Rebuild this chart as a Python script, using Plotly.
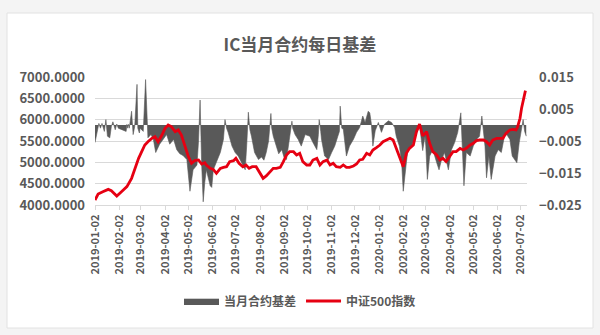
import plotly.graph_objects as go

# ---------------- data ----------------
index_dates = [
    "2019-01-02","2019-01-06","2019-01-12","2019-01-19","2019-01-23","2019-01-30",
    "2019-02-05","2019-02-12","2019-02-18","2019-02-22","2019-02-27",
    "2019-03-03","2019-03-07","2019-03-11","2019-03-16","2019-03-20","2019-03-24","2019-03-29",
    "2019-04-02","2019-04-06","2019-04-10","2019-04-15","2019-04-19","2019-04-23","2019-04-28",
    "2019-05-02","2019-05-06","2019-05-10","2019-05-15","2019-05-19","2019-05-23","2019-05-25","2019-05-30",
    "2019-06-03","2019-06-07","2019-06-12","2019-06-16","2019-06-20","2019-06-24","2019-06-29",
    "2019-07-02","2019-07-06","2019-07-11","2019-07-15","2019-07-19","2019-07-23","2019-07-28",
    "2019-08-01","2019-08-06","2019-08-10","2019-08-15","2019-08-19","2019-08-23","2019-08-28",
    "2019-09-01","2019-09-05","2019-09-09","2019-09-14","2019-09-18","2019-09-22","2019-09-26",
    "2019-10-01","2019-10-05","2019-10-09","2019-10-14","2019-10-18","2019-10-22","2019-10-27","2019-10-31",
    "2019-11-04","2019-11-08","2019-11-13","2019-11-17","2019-11-21","2019-11-25","2019-11-30",
    "2019-12-04","2019-12-08","2019-12-12","2019-12-17","2019-12-21","2019-12-25","2019-12-30",
    "2020-01-03","2020-01-07","2020-01-12","2020-01-16","2020-01-20","2020-01-24","2020-01-29",
    "2020-02-02","2020-02-06","2020-02-10","2020-02-15","2020-02-19","2020-02-23","2020-02-27",
    "2020-03-03","2020-03-07","2020-03-11","2020-03-16","2020-03-20","2020-03-24","2020-03-28",
    "2020-04-02","2020-04-06","2020-04-10","2020-04-15","2020-04-19","2020-04-23","2020-04-28",
    "2020-05-02","2020-05-06","2020-05-10","2020-05-15","2020-05-19","2020-05-23","2020-05-27",
    "2020-06-01","2020-06-05","2020-06-09","2020-06-13","2020-06-18","2020-06-22","2020-06-26","2020-06-28",
    "2020-07-01","2020-07-03","2020-07-05","2020-07-08",
]
index_values = [
    4117,4258,4312,4367,4336,4211,
    4312,4430,4625,4859,5094,
    5250,5406,5484,5562,5601,5484,5640,
    5797,5875,5836,5718,5758,5640,5367,
    5133,4977,5039,5055,4961,4992,4938,4859,
    4836,4742,4859,4883,4898,5016,5039,
    5094,4977,4898,4938,4859,4898,4898,
    4781,4625,4680,4781,4859,4859,4883,
    5016,5172,5250,5250,5172,5211,5016,
    4938,4938,5055,5094,4938,5016,5055,4938,
    4977,4898,4883,4938,4883,4883,4914,
    4961,5055,5070,5211,5172,5289,5352,
    5406,5484,5523,5562,5523,5328,5094,
    4898,5211,5328,5406,5718,5898,5620,
    5718,5445,5250,5172,5055,5094,5016,
    5133,5250,5250,5328,5289,5328,5406,
    5445,5508,5523,5523,5484,5406,5523,
    5562,5562,5562,5680,5758,5773,5758,5836,
    6031,6266,6461,6680,
]

basis_dates = [
    "2019-01-02","2019-01-04","2019-01-07","2019-01-09","2019-01-11","2019-01-14","2019-01-16",
    "2019-01-18","2019-01-21","2019-01-23","2019-01-25","2019-01-28","2019-01-30","2019-02-01",
    "2019-02-11","2019-02-12","2019-02-13","2019-02-14","2019-02-15","2019-02-18","2019-02-19",
    "2019-02-20","2019-02-22","2019-02-25","2019-02-26","2019-02-28","2019-03-01","2019-03-05",
    "2019-03-08","2019-03-11","2019-03-15","2019-03-18","2019-03-21","2019-03-26","2019-04-04",
    "2019-04-08","2019-04-13","2019-04-17","2019-04-21","2019-04-25","2019-04-30","2019-05-04",
    "2019-05-08","2019-05-13","2019-05-15","2019-05-17","2019-05-19","2019-05-21","2019-05-23",
    "2019-05-25","2019-05-30","2019-06-01","2019-06-03","2019-06-07","2019-06-12","2019-06-16",
    "2019-06-18","2019-06-20","2019-06-22","2019-06-27","2019-07-01","2019-07-05","2019-07-09",
    "2019-07-14","2019-07-16","2019-07-18","2019-07-20","2019-07-22","2019-07-26","2019-07-31",
    "2019-08-04","2019-08-07","2019-08-10","2019-08-13","2019-08-16","2019-08-17","2019-08-19",
    "2019-08-23","2019-08-26","2019-08-30","2019-09-02","2019-09-05","2019-09-08","2019-09-12",
    "2019-09-13","2019-09-16","2019-09-20","2019-09-24","2019-09-29","2019-10-03","2019-10-05",
    "2019-10-09","2019-10-14","2019-10-16","2019-10-17","2019-10-19","2019-10-20","2019-10-24",
    "2019-10-29","2019-11-02","2019-11-06","2019-11-10","2019-11-12","2019-11-13","2019-11-15",
    "2019-11-17","2019-11-19","2019-11-21","2019-11-25","2019-11-30","2019-12-04","2019-12-08",
    "2019-12-10","2019-12-12","2019-12-15","2019-12-17","2019-12-19","2019-12-21","2019-12-23",
    "2019-12-25","2019-12-28","2020-01-01","2020-01-05","2020-01-09","2020-01-14","2020-01-18",
    "2020-01-22","2020-01-24","2020-01-28","2020-01-31","2020-02-02","2020-02-06","2020-02-08",
    "2020-02-13","2020-02-17","2020-02-20","2020-02-23","2020-02-27","2020-03-01","2020-03-02",
    "2020-03-04","2020-03-07","2020-03-11","2020-03-16","2020-03-19","2020-03-22","2020-03-26",
    "2020-03-31","2020-04-04","2020-04-08","2020-04-12","2020-04-16","2020-04-18","2020-04-20",
    "2020-04-23","2020-04-28","2020-05-02","2020-05-06","2020-05-10","2020-05-13","2020-05-17",
    "2020-05-19","2020-05-22","2020-05-25","2020-05-30","2020-06-03","2020-06-07","2020-06-11",
    "2020-06-14","2020-06-18","2020-06-21","2020-06-24","2020-06-27","2020-06-30","2020-07-03",
    "2020-07-05","2020-07-07","2020-07-09",
]
basis_values = [
    -0.0055,-0.0030,0.0005,-0.0010,0.0005,-0.0020,0.0017,
    -0.0035,-0.0040,-0.0005,0.0010,-0.0015,0.0003,-0.0010,
    -0.0020,0.0002,-0.0010,0.0002,-0.0010,0.0043,0.0010,
    -0.0030,-0.0005,0.0127,-0.0010,-0.0025,-0.0010,-0.0020,
    0.0142,-0.0040,-0.0030,-0.0045,-0.0086,-0.0060,-0.0030,
    -0.0060,-0.0045,-0.0077,-0.0090,-0.0095,-0.0108,-0.0207,
    -0.0140,-0.0125,-0.0050,0.0078,-0.0120,-0.0240,-0.0180,
    -0.0140,-0.0190,-0.0195,-0.0140,-0.0118,-0.0086,-0.0045,
    0.0017,-0.0010,-0.0023,-0.0066,-0.0086,-0.0097,-0.0118,
    -0.0140,-0.0060,0.0040,-0.0015,-0.0035,-0.0086,-0.0108,
    -0.0100,-0.0110,-0.0086,-0.0050,0.0036,-0.0010,-0.0035,
    -0.0066,-0.0090,-0.0077,-0.0102,-0.0108,-0.0055,0.0012,
    -0.0010,-0.0030,-0.0045,-0.0066,-0.0030,-0.0035,-0.0035,
    -0.0055,-0.0077,-0.0030,0.0017,-0.0020,-0.0045,-0.0097,
    -0.0108,-0.0086,-0.0066,-0.0035,-0.0020,0.0059,-0.0010,
    -0.0013,-0.0050,-0.0097,-0.0066,-0.0045,-0.0023,-0.0008,
    0.0010,0.0028,0.0008,0.0030,0.0043,0.0038,0.0005,
    -0.0066,-0.0018,0.0008,-0.0023,0.0003,0.0013,0.0008,
    -0.0008,-0.0035,-0.0066,-0.0118,-0.0207,-0.0118,-0.0077,
    -0.0066,-0.0035,-0.0020,-0.0002,-0.0080,-0.0035,-0.0066,
    -0.0170,-0.0097,-0.0077,-0.0118,-0.0140,-0.0110,-0.0086,
    -0.0140,-0.0077,-0.0055,-0.0023,0.0038,-0.0066,-0.0190,
    -0.0086,-0.0097,-0.0066,-0.0045,-0.0035,0.0028,-0.0066,
    -0.0165,-0.0097,-0.0170,-0.0097,-0.0077,-0.0086,-0.0035,
    -0.0030,-0.0045,-0.0097,-0.0108,-0.0118,-0.0055,-0.0013,
    0.0017,-0.0020,-0.0035,
]

x_tick_dates = [
    "2019-01-02","2019-02-02","2019-03-02","2019-04-02","2019-05-02","2019-06-02",
    "2019-07-02","2019-08-02","2019-09-02","2019-10-02","2019-11-02","2019-12-02",
    "2020-01-02","2020-02-02","2020-03-02","2020-04-02","2020-05-02","2020-06-02","2020-07-02",
]
left_ticks = [4000, 4500, 5000, 5500, 6000, 6500, 7000]
right_ticks = [-0.025, -0.015, -0.005, 0.005, 0.015]

# ---------------- figure ----------------
FONT = "Noto Sans CJK SC, Noto Sans, sans-serif"
GREY_TXT = "#595959"

fig = go.Figure()

# basis area (primary y, drawn on the right)
fig.add_trace(go.Scatter(
    x=basis_dates, y=basis_values, name="当月合约基差",
    mode="lines", line=dict(color="#595959", width=0.6),
    fill="tozeroy", fillcolor="#595959", yaxis="y",
))
# index line (secondary y, drawn on the left, on top)
fig.add_trace(go.Scatter(
    x=index_dates, y=index_values, name="中证500指数",
    mode="lines", line=dict(color="#e60012", width=2.8), yaxis="y2",
))

L, R, T, B = 95, 73, 77, 130
PW, PH = 600 - L - R, 335 - T - B

fig.update_layout(
    width=600, height=335,
    margin=dict(l=L, r=R, t=T, b=B, pad=0),
    paper_bgcolor="#f4f4f4", plot_bgcolor="rgba(0,0,0,0)",
    font=dict(family=FONT, color=GREY_TXT, size=11),
    title=dict(text="<b>IC当月合约每日基差</b>", x=0.5, xanchor="center",
               y=1 - 45 / 335, yanchor="middle",
               font=dict(size=17, color=GREY_TXT, family=FONT)),
    showlegend=True,
    legend=dict(orientation="h", x=(300 - L) / PW, xanchor="center",
                y=(335 - B - 301) / PH, yanchor="middle",
                font=dict(size=12, color=GREY_TXT, family=FONT, weight="bold"),
                bgcolor="rgba(0,0,0,0)", itemwidth=35, traceorder="normal"),
    xaxis=dict(type="date", range=["2019-01-02", "2020-07-10"],
               tickvals=x_tick_dates, tickformat="%Y-%m-%d", tickangle=-90,
               tickfont=dict(size=11, color=GREY_TXT, family=FONT, weight="bold"),
               showgrid=False, showline=True, linecolor="#d9d9d9", linewidth=1,
               ticks="outside", ticklen=4, tickcolor="#d9d9d9", zeroline=False),
    yaxis=dict(side="right", range=[-0.025, 0.015], tickvals=right_ticks,
               tickformat=".3f", showgrid=False, zeroline=False,
               tickfont=dict(size=13, color=GREY_TXT, family=FONT, weight="bold"),
               ticks="", ticklabelstandoff=11),
    yaxis2=dict(overlaying="y", side="left", range=[4000, 7000], tickvals=left_ticks,
                tickformat=".4f", showgrid=True, gridcolor="#d9d9d9", gridwidth=1,
                zeroline=False,
                tickfont=dict(size=13, color=GREY_TXT, family=FONT, weight="bold"),
                ticks="", ticklabelstandoff=9),
    shapes=[dict(type="rect", xref="paper", yref="paper", layer="below",
                 x0=(7 - L) / PW, x1=(593 - L) / PW,
                 y0=(335 - B - 328) / PH, y1=(335 - B - 13) / PH,
                 fillcolor="white", line=dict(color="#e2e2e2", width=1))],
)

fig.write_html("out.html")
